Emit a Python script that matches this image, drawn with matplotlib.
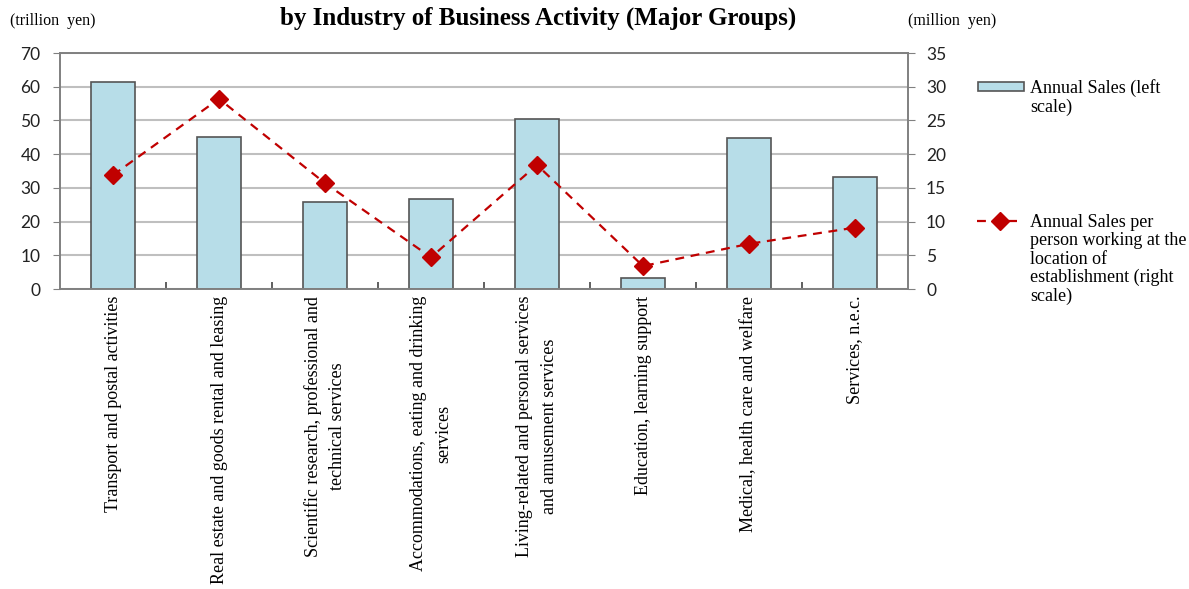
import numpy as np
import matplotlib
matplotlib.use("Agg")
import matplotlib.pyplot as plt
from matplotlib.patches import Rectangle
from matplotlib.lines import Line2D

categories = [
    "Transport and postal activities",
    "Real estate and goods rental and leasing",
    "Scientific research, professional and\ntechnical services",
    "Accommodations, eating and drinking\nservices",
    "Living-related and personal services\nand amusement services",
    "Education, learning support",
    "Medical, health care and welfare",
    "Services, n.e.c.",
]
sales = [61.4, 45.1, 25.8, 26.6, 50.3, 3.3, 44.8, 33.2]          # trillion yen
per_person = [16.9, 28.2, 15.7, 4.7, 18.4, 3.4, 6.7, 9.1]       # million yen

bar_color = "#B7DDE8"
line_color = "#C00000"
serif = "Liberation Serif"
num_font = "Lato"

fig = plt.figure(figsize=(11.89, 5.89), dpi=100)
ax = fig.add_axes([60/1189, 1-289/589, 848/1189, 236/589])
ax2 = ax.twinx()

x = np.arange(len(categories))
ax.bar(x, sales, width=0.41, color=bar_color, edgecolor="#555555", linewidth=1.2, zorder=2)
ax2.plot(x, per_person, color=line_color, linestyle=(0, (4, 3)), linewidth=1.6,
         marker="D", markersize=9, markerfacecolor=line_color, markeredgecolor=line_color, zorder=3)

ax.set_xlim(-0.5, len(categories) - 0.5)
ax.set_ylim(0, 70)
ax2.set_ylim(0, 35)
ax.set_yticks(np.arange(0, 71, 10))
ax2.set_yticks(np.arange(0, 36, 5))
ax.yaxis.grid(True, color="#BFBFBF", linewidth=1.5, zorder=0)
ax.set_axisbelow(True)

for a in (ax, ax2):
    for s in a.spines.values():
        s.set_color("#808080")
        s.set_linewidth(1.2)

ax.tick_params(axis="y", direction="out", length=5, color="#808080", labelsize=12.5, pad=9)
ax2.tick_params(axis="y", direction="out", length=5, color="#808080", labelsize=12.5, pad=8)
for lab in ax.get_yticklabels() + ax2.get_yticklabels():
    lab.set_fontfamily(num_font)
    lab.set_color("#222222")

ax.set_xticks(x)
ax.set_xticklabels(categories, rotation=90, ha="center", va="top", multialignment="center",
                   fontfamily=serif, fontsize=13, linespacing=1.6)
ax.tick_params(axis="x", which="major", length=0, pad=5)
ax.set_xticks(x[:-1] + 0.5, minor=True)
ax.tick_params(axis="x", which="minor", direction="in", length=5, color="#444444", width=1.2)

fig.text(538/1189, 1-18/589, "by Industry of Business Activity (Major Groups)", ha="center", va="center",
         fontfamily=serif, fontweight="bold", fontsize=18)
fig.text(10/1189, 1-21/589, "(trillion  yen)", ha="left", va="center", fontfamily=serif, fontsize=11.5)
fig.text(908/1189, 1-21/589, "(million  yen)", ha="left", va="center", fontfamily=serif, fontsize=11.5)

# legend drawn in figure coordinates
fig.patches.append(Rectangle((978/1189, 1-91/589), 46/1189, 9/589, transform=fig.transFigure,
                             facecolor=bar_color, edgecolor="#555555", linewidth=1.2))
fig.text(1030/1189, 1-79/589, "Annual Sales (left\nscale)", ha="left", va="top",
         fontfamily=serif, fontsize=13, linespacing=1.1)
fig.lines.append(Line2D([977/1189, 1023/1189], [1-221/589, 1-221/589], transform=fig.transFigure,
                        color=line_color, linestyle=(0, (4, 3)), linewidth=1.6))
fig.lines.append(Line2D([1000/1189], [1-221/589], transform=fig.transFigure, marker="D", markersize=9,
                        color=line_color, linestyle="none"))
fig.text(1030/1189, 1-214/589, "Annual Sales per\nperson working at the\nlocation of\nestablishment (right\nscale)",
         ha="left", va="top", fontfamily=serif, fontsize=13, linespacing=1.1)

fig.savefig("out.png", dpi=100)
